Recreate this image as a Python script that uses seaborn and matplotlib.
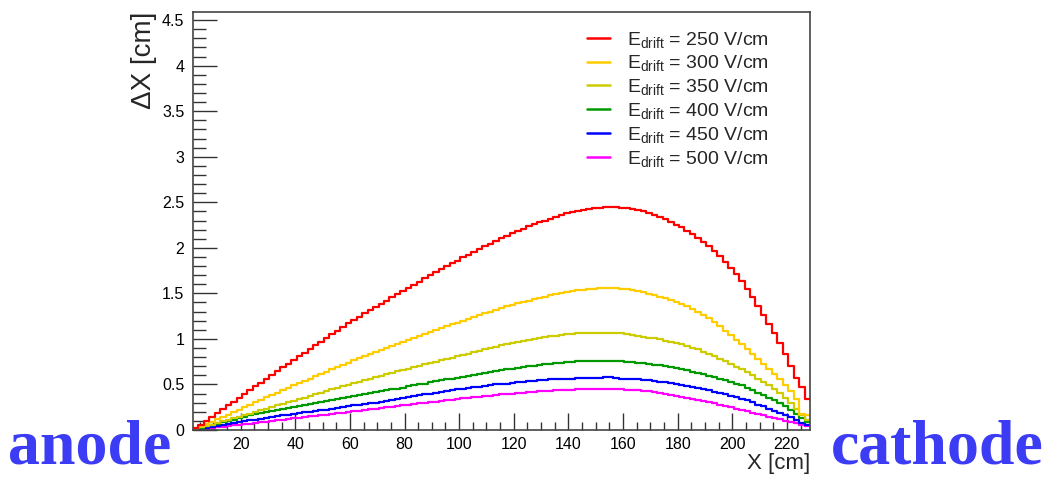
import numpy as np
import pandas as pd
import matplotlib
matplotlib.use("Agg")
import matplotlib.pyplot as plt
from matplotlib.lines import Line2D
from matplotlib.ticker import MultipleLocator, FuncFormatter
import seaborn as sns

# ---- data (bin width 2 cm, 2.5 .. 228.5 cm) ----
x_lo, x_hi, bin_w = 2.5, 228.5, 2.0
bin_centers = np.arange(x_lo + bin_w / 2, x_hi, bin_w)

fields = ["250", "300", "350", "400", "450", "500"]
colors = ["#ff0000", "#ffcc00", "#cccc00", "#009900", "#0000ff", "#ff00ff"]

dx_250 = [
    0.02, 0.06, 0.10, 0.14, 0.19, 0.23, 0.27, 0.31, 0.355, 0.40,
    0.44, 0.48, 0.52, 0.565, 0.605, 0.645, 0.69, 0.73, 0.77, 0.81,
    0.85, 0.89, 0.93, 0.97, 1.01, 1.05, 1.09, 1.13, 1.17, 1.21,
    1.245, 1.28, 1.315, 1.35, 1.385, 1.42, 1.455, 1.49, 1.525, 1.56,
    1.595, 1.63, 1.665, 1.70, 1.735, 1.765, 1.80, 1.83, 1.86, 1.895,
    1.925, 1.955, 1.985, 2.015, 2.045, 2.075, 2.105, 2.135, 2.16, 2.185,
    2.21, 2.235, 2.26, 2.28, 2.30, 2.32, 2.34, 2.36, 2.38, 2.395,
    2.405, 2.415, 2.425, 2.435, 2.44, 2.445, 2.445, 2.445, 2.44, 2.435,
    2.425, 2.415, 2.40, 2.38, 2.36, 2.34, 2.315, 2.285, 2.255, 2.225,
    2.19, 2.15, 2.105, 2.06, 2.015, 1.965, 1.915, 1.85, 1.78, 1.71,
    1.635, 1.545, 1.455, 1.36, 1.265, 1.165, 1.065, 0.96, 0.835, 0.70,
    0.57, 0.47, 0.34,
]
dx_300 = [
    0.015, 0.04, 0.065, 0.09, 0.12, 0.145, 0.17, 0.20, 0.225, 0.25,
    0.28, 0.305, 0.33, 0.36, 0.385, 0.41, 0.44, 0.465, 0.49, 0.515,
    0.54, 0.565, 0.59, 0.615, 0.64, 0.665, 0.69, 0.715, 0.74, 0.765,
    0.79, 0.81, 0.835, 0.855, 0.88, 0.90, 0.925, 0.945, 0.97, 0.99,
    1.01, 1.035, 1.055, 1.075, 1.10, 1.12, 1.14, 1.16, 1.18, 1.20,
    1.22, 1.24, 1.26, 1.28, 1.30, 1.32, 1.34, 1.36, 1.375, 1.39,
    1.405, 1.42, 1.435, 1.45, 1.465, 1.48, 1.495, 1.505, 1.515, 1.525,
    1.535, 1.54, 1.545, 1.55, 1.555, 1.555, 1.555, 1.555, 1.55, 1.545,
    1.535, 1.525, 1.51, 1.495, 1.48, 1.465, 1.445, 1.425, 1.405, 1.385,
    1.36, 1.33, 1.30, 1.26, 1.225, 1.185, 1.14, 1.09, 1.04, 0.99,
    0.94, 0.885, 0.83, 0.775, 0.72, 0.665, 0.61, 0.555, 0.49, 0.43,
    0.34, 0.18, 0.17,
]
dx_350 = [
    0.01, 0.03, 0.045, 0.06, 0.08, 0.095, 0.11, 0.13, 0.145, 0.165,
    0.18, 0.20, 0.215, 0.235, 0.25, 0.27, 0.285, 0.305, 0.32, 0.34,
    0.355, 0.375, 0.39, 0.41, 0.425, 0.445, 0.46, 0.48, 0.495, 0.515,
    0.53, 0.55, 0.565, 0.58, 0.595, 0.61, 0.63, 0.645, 0.66, 0.675,
    0.69, 0.705, 0.72, 0.735, 0.75, 0.765, 0.78, 0.795, 0.81, 0.825,
    0.84, 0.855, 0.87, 0.885, 0.90, 0.915, 0.93, 0.94, 0.955, 0.965,
    0.98, 0.99, 1.0, 1.01, 1.02, 1.03, 1.035, 1.045, 1.05, 1.055,
    1.06, 1.065, 1.065, 1.07, 1.07, 1.07, 1.07, 1.065, 1.06, 1.055,
    1.045, 1.035, 1.025, 1.015, 1.005, 0.995, 0.98, 0.965, 0.95, 0.94,
    0.92, 0.90, 0.885, 0.86, 0.835, 0.81, 0.785, 0.755, 0.725, 0.695,
    0.67, 0.635, 0.60, 0.565, 0.525, 0.49, 0.45, 0.405, 0.35, 0.295,
    0.23, 0.16, 0.11,
]
dx_400 = [
    0.01, 0.025, 0.04, 0.055, 0.07, 0.085, 0.10, 0.115, 0.13, 0.145,
    0.16, 0.175, 0.185, 0.20, 0.21, 0.22, 0.235, 0.245, 0.255, 0.265,
    0.275, 0.29, 0.30, 0.31, 0.32, 0.33, 0.34, 0.355, 0.365, 0.375,
    0.385, 0.395, 0.405, 0.415, 0.425, 0.435, 0.445, 0.455, 0.465, 0.48,
    0.49, 0.50, 0.51, 0.525, 0.535, 0.545, 0.555, 0.565, 0.575, 0.585,
    0.595, 0.605, 0.615, 0.625, 0.635, 0.645, 0.655, 0.665, 0.675, 0.685,
    0.69, 0.70, 0.705, 0.715, 0.72, 0.73, 0.735, 0.74, 0.745, 0.75,
    0.755, 0.755, 0.76, 0.76, 0.76, 0.76, 0.76, 0.76, 0.755, 0.75,
    0.745, 0.74, 0.735, 0.725, 0.715, 0.71, 0.70, 0.69, 0.68, 0.67,
    0.655, 0.64, 0.625, 0.61, 0.595, 0.58, 0.565, 0.545, 0.525, 0.505,
    0.49, 0.465, 0.44, 0.41, 0.385, 0.355, 0.325, 0.295, 0.26, 0.22,
    0.18, 0.13, 0.09,
]
dx_450 = [
    0.005, 0.015, 0.025, 0.035, 0.045, 0.055, 0.065, 0.075, 0.085, 0.095,
    0.105, 0.115, 0.125, 0.135, 0.14, 0.15, 0.16, 0.17, 0.175, 0.185,
    0.195, 0.20, 0.21, 0.22, 0.225, 0.235, 0.245, 0.25, 0.26, 0.27,
    0.275, 0.285, 0.295, 0.30, 0.31, 0.32, 0.33, 0.34, 0.35, 0.36,
    0.37, 0.38, 0.39, 0.40, 0.405, 0.415, 0.425, 0.435, 0.445, 0.45,
    0.46, 0.47, 0.475, 0.485, 0.49, 0.50, 0.505, 0.51, 0.52, 0.525,
    0.53, 0.535, 0.54, 0.545, 0.55, 0.555, 0.56, 0.565, 0.565, 0.565,
    0.57, 0.57, 0.57, 0.57, 0.57, 0.585, 0.58, 0.57, 0.565, 0.565,
    0.56, 0.555, 0.55, 0.545, 0.54, 0.53, 0.525, 0.515, 0.505, 0.495,
    0.485, 0.475, 0.46, 0.45, 0.435, 0.42, 0.41, 0.395, 0.375, 0.36,
    0.345, 0.325, 0.305, 0.28, 0.26, 0.235, 0.21, 0.185, 0.165, 0.14,
    0.11, 0.075, 0.05,
]
dx_500 = [
    0.0, 0.008, 0.015, 0.022, 0.03, 0.037, 0.045, 0.05, 0.057, 0.063,
    0.07, 0.075, 0.083, 0.09, 0.097, 0.105, 0.112, 0.12, 0.127, 0.135,
    0.142, 0.15, 0.157, 0.165, 0.17, 0.178, 0.185, 0.192, 0.2, 0.207,
    0.213, 0.22, 0.228, 0.235, 0.242, 0.25, 0.257, 0.265, 0.272, 0.28,
    0.287, 0.293, 0.3, 0.307, 0.313, 0.32, 0.327, 0.333, 0.34, 0.347,
    0.353, 0.36, 0.366, 0.372, 0.378, 0.384, 0.39, 0.395, 0.4, 0.405,
    0.41, 0.415, 0.42, 0.424, 0.428, 0.432, 0.436, 0.44, 0.442, 0.444,
    0.446, 0.447, 0.448, 0.449, 0.45, 0.45, 0.45, 0.449, 0.447, 0.444,
    0.44, 0.435, 0.43, 0.423, 0.415, 0.407, 0.398, 0.388, 0.378, 0.367,
    0.355, 0.343, 0.331, 0.318, 0.305, 0.292, 0.278, 0.264, 0.25, 0.235,
    0.22, 0.205, 0.19, 0.175, 0.16, 0.145, 0.13, 0.117, 0.103, 0.09,
    0.075, 0.06, 0.04,
]

series = [dx_250, dx_300, dx_350, dx_400, dx_450, dx_500]
for s in series:
    assert len(s) == len(bin_centers)

df = pd.concat(
    [pd.DataFrame({"x": bin_centers, "dx": vals, "field": f}) for f, vals in zip(fields, series)],
    ignore_index=True,
)

# ---- style ----
sns.set_style("white")
plt.rcParams["font.family"] = ["Liberation Sans", "DejaVu Sans"]
plt.rcParams["mathtext.fontset"] = "custom"
plt.rcParams["mathtext.rm"] = "Liberation Sans"
plt.rcParams["mathtext.it"] = "Liberation Sans:italic"

fig = plt.figure(figsize=(10.48, 4.78), dpi=100)
ax = fig.add_axes([0.184, 0.1004, 0.589, 0.8746])

sns.histplot(
    data=df, x="x", weights="dx", hue="field", hue_order=fields,
    palette=colors, binwidth=bin_w, binrange=(x_lo, x_hi),
    element="step", fill=False, linewidth=1.6, legend=False, ax=ax,
)

ax.set_xlim(x_lo, x_hi)
ax.set_ylim(0, 4.59)
ax.xaxis.set_major_locator(MultipleLocator(20))
ax.xaxis.set_minor_locator(MultipleLocator(5))
ax.yaxis.set_major_locator(MultipleLocator(0.5))
ax.yaxis.set_minor_locator(MultipleLocator(0.1))
ax.yaxis.set_major_formatter(FuncFormatter(lambda v, p: f"{v:g}"))
ax.xaxis.set_major_formatter(FuncFormatter(lambda v, p: f"{v:g}"))
ax.tick_params(axis="both", which="both", direction="in", top=False, right=False,
               bottom=True, left=True, colors="#333333", labelcolor="black",
               labelsize=11.5)
ax.tick_params(axis="y", which="major", length=17, width=1, pad=6)
ax.tick_params(axis="y", which="minor", length=9, width=1)
ax.tick_params(axis="x", which="major", length=12, width=1, pad=5)
ax.tick_params(axis="x", which="minor", length=6, width=1)
for sp in ax.spines.values():
    sp.set_color("#444444")
    sp.set_linewidth(1.2)

ax.set_xlabel("X [cm]", fontsize=16, loc="right", labelpad=1)
ax.set_ylabel("ΔX [cm]", fontsize=20, loc="top", labelpad=4)

handles = [Line2D([0], [0], color=c, lw=1.8) for c in colors]
labels = [r"$\mathrm{E}_{\mathrm{drift}}$ = " + f + " V/cm" for f in fields]
ax.legend(handles, labels, loc="upper left", bbox_to_anchor=(0.638, 0.958),
          frameon=False, fontsize=14, handlelength=1.2, handletextpad=0.9,
          labelspacing=0.2, borderpad=0, borderaxespad=0)

fig.text(0.008, 0.002, "anode", color="#3c3cf5", fontsize=46, fontweight="bold",
         family="Liberation Serif", ha="left", va="bottom")
fig.text(0.996, 0.002, "cathode", color="#3c3cf5", fontsize=46, fontweight="bold",
         family="Liberation Serif", ha="right", va="bottom")

fig.savefig("out.png", dpi=100)
